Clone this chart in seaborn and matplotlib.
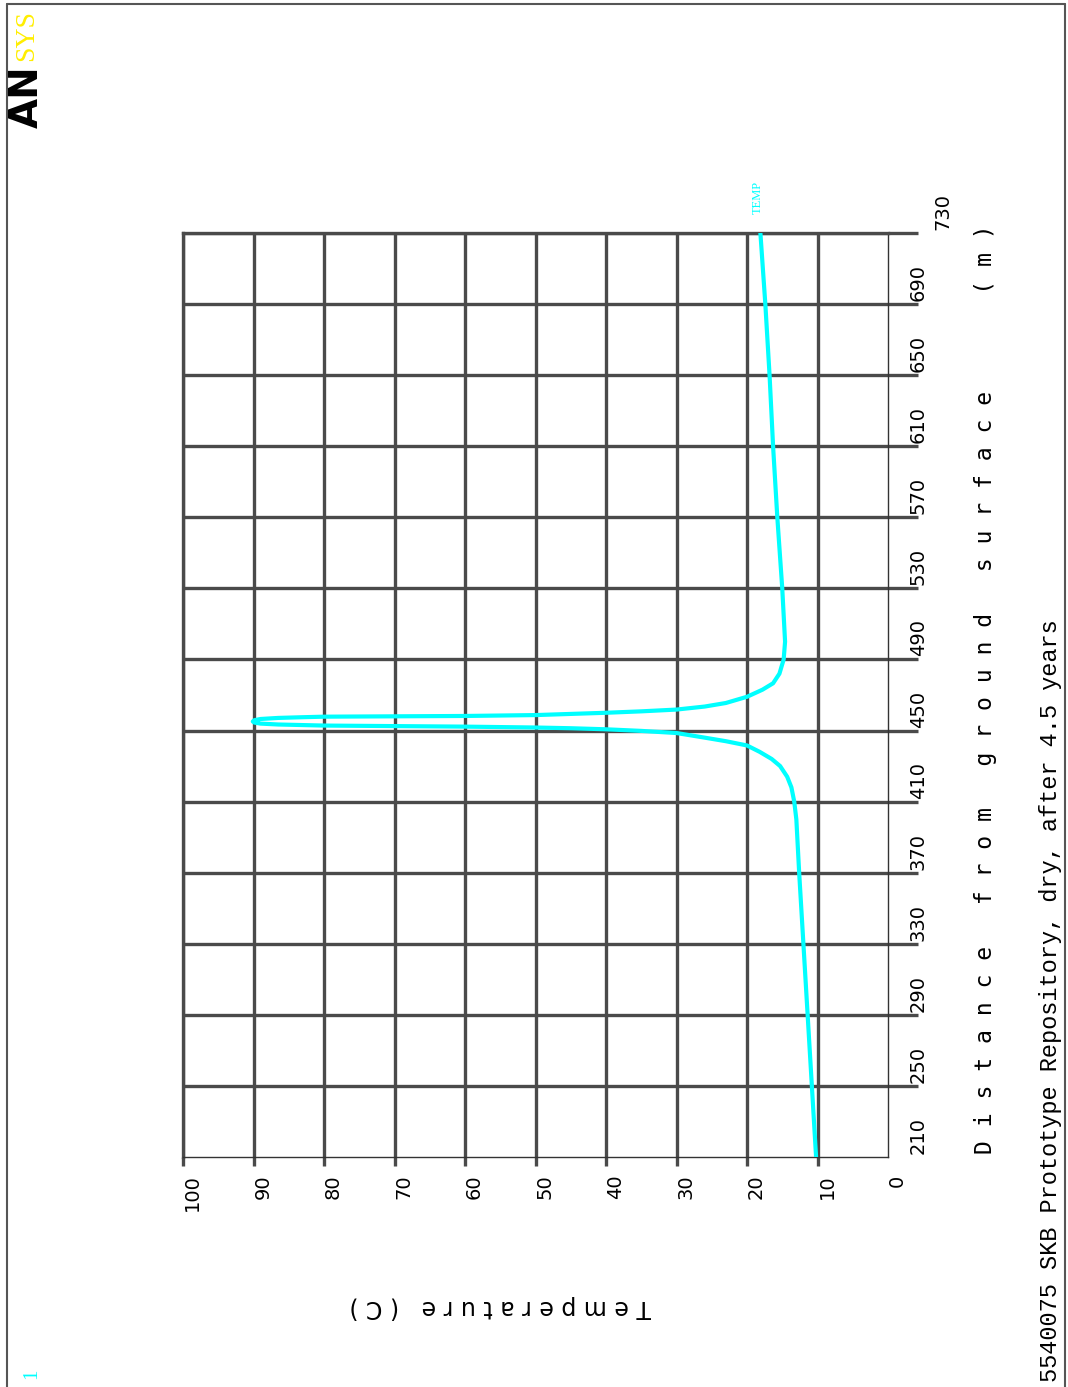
import numpy as np
import pandas as pd
import matplotlib
matplotlib.use("Agg")
import matplotlib.pyplot as plt
import matplotlib.transforms as mtransforms
from matplotlib.lines import Line2D
import seaborn as sns

# ---------------- data ----------------
distance_m = [210, 250, 290, 330, 370, 400, 410, 418, 424, 430,
              434, 438, 441.6, 444, 446, 448.6, 449.8, 450.7, 451.3, 451.7,
              452.2, 452.5, 452.8, 453.4, 453.9, 454.5, 455.1, 455.8, 456.5, 457.1,
              457.5, 457.8, 458.0, 458.2, 458.7, 460.0, 460.8, 461.8, 463.5, 465.5,
              469.0, 473.0, 476.6, 482, 490, 500, 530, 570, 610, 650,
              690, 730]
temperature_c = [10.2, 10.8, 11.4, 12.0, 12.6, 13.0, 13.3, 13.7, 14.3, 15.3,
                 16.5, 18.2, 20.0, 23.0, 26.0, 30.0, 35.0, 40.0, 45.0, 50.0,
                 60.0, 70.0, 80.0, 86.5, 89.0, 89.9, 90.1, 89.9, 89.0, 86.5,
                 83.0, 80.0, 70.0, 60.0, 50.0, 40.0, 35.0, 30.0, 26.0, 23.0,
                 20.0, 17.8, 16.3, 15.4, 14.8, 14.6, 15.0, 15.7, 16.3, 16.8,
                 17.4, 18.1]
temp_ticks = [0, 10, 20, 30, 40, 50, 60, 70, 80, 90, 100]
dist_ticks = [210, 250, 290, 330, 370, 410, 450, 490, 530, 570, 610, 650, 690, 730]
x_label = "T e m p e r a t u r e   ( C )"
y_label = "D i s t a n c e   f r o m   g r o u n d   s u r f a c e       ( m )"
title = "5540075 SKB Prototype Repository, dry, after 4.5 years"
series_label = "TEMP"
window_number = "1"

# ---------------- figure ----------------
W, H = 1068, 1387
sns.set_theme(style="white")
plt.rcParams['font.family'] = ['DejaVu Sans']

fig = plt.figure(figsize=(W / 100, H / 100), dpi=100)
fig.patch.set_facecolor('white')


def fx(px):
    return px / W


def fy(py):
    return 1 - py / H


AX_L, AX_R, AX_T, AX_B = 183, 888, 233, 1157
ax = fig.add_axes([fx(AX_L), fy(AX_B), (AX_R - AX_L) / W, (AX_B - AX_T) / H])
ax.set_facecolor('white')

df = pd.DataFrame({"distance": distance_m, "temperature": temperature_c})
sns.lineplot(data=df, x="temperature", y="distance", sort=False, estimator=None,
             color="#00FFFF", lw=3.0, ax=ax, zorder=5,
             solid_capstyle='round', solid_joinstyle='round')

ax.set_xlim(100, 0)
ax.set_ylim(210, 730)
ax.set_xticks(temp_ticks)
ax.set_yticks(dist_ticks)
ax.set_xticklabels([str(t) for t in temp_ticks])
ax.set_yticklabels([str(d) for d in dist_ticks])

GRID = '#4a4a4a'
ax.grid(True, color=GRID, lw=2.4)
ax.set_axisbelow(True)

TICK_FONT = 'DejaVu Sans'
ax.tick_params(axis='x', bottom=True, top=False, direction='out', length=6.5,
               width=2.4, color=GRID, pad=6.0, labelsize=14,
               labelfontfamily=TICK_FONT, labelcolor='black')
ax.tick_params(axis='y', left=False, right=True, labelleft=False, labelright=True,
               direction='out', length=21.6, width=2.4, color=GRID, pad=-6.5,
               labelsize=14, labelfontfamily=TICK_FONT, labelcolor='black')

for lab in ax.get_xticklabels():
    lab.set_rotation(90)
    lab.set_ha('left')
    lab.set_va('top')

yt = ax.yaxis.get_major_ticks()
for i, t in enumerate(yt):
    t.label2.set_rotation(90)
    t.label2.set_ha('left')
    t.label2.set_va('bottom')
    dx = 24 if i == len(yt) - 1 else 0   # top label sits further out
    t.label2.set_transform(t.label2.get_transform() +
                           mtransforms.ScaledTranslation(dx / 100, 3 / 100, fig.dpi_scale_trans))

xt = ax.xaxis.get_major_ticks()
xt[0].tick1line.set_visible(False)
xt[0].gridline.set_visible(False)
yt[0].tick2line.set_visible(False)
yt[0].gridline.set_visible(False)

for s in ['left', 'top']:
    ax.spines[s].set_color(GRID)
    ax.spines[s].set_linewidth(2.4)
for s in ['right', 'bottom']:
    ax.spines[s].set_color('#333333')
    ax.spines[s].set_linewidth(1.0)

# axis labels
ax.set_xlabel(x_label, fontsize=17, rotation=180, family='DejaVu Sans', color='black')
ax.xaxis.label.set_ha('center')
ax.xaxis.label.set_va('center')
ax.xaxis.set_label_coords((500 - AX_L) / (AX_R - AX_L), (AX_B - 1307) / (AX_B - AX_T))

ax.yaxis.set_label_position('right')
ax.set_ylabel(y_label, fontsize=16.7, rotation=90, family='DejaVu Sans Mono', color='black')
ax.yaxis.label.set_rotation_mode('default')
ax.yaxis.label.set_ha('center')
ax.yaxis.label.set_va('center')
ax.yaxis.set_label_coords((985 - AX_L) / (AX_R - AX_L), (AX_B - 689.5) / (AX_B - AX_T))

# series label
fig.text(fx(757.5), fy(214), series_label, rotation=90, ha='center', va='bottom',
         family='Liberation Serif', fontsize=9, color='#00FFFF')

# title
fig.text(fx(1050), fy(1382), title, rotation=90, ha='center', va='bottom',
         family='Liberation Mono', fontsize=17, color='black')

# window number
fig.text(fx(32), fy(1379), window_number, rotation=90, ha='center', va='bottom',
         family='Liberation Serif', fontsize=15, color='#00FFFF')

# logo
fig.text(fx(27), fy(128), "AN", rotation=90, ha='center', va='bottom',
         family='DejaVu Sans', fontweight='bold', fontsize=28, color='black')
fig.text(fx(27), fy(61), "SYS", rotation=90, ha='center', va='bottom',
         family='Liberation Serif', fontsize=20, color='#FFEE00')

# page border
for xs, ys in [([7, 7], [1387, 4]), ([7, 1065], [4, 4]), ([1065, 1065], [4, 1387])]:
    fig.add_artist(Line2D([fx(v) for v in xs], [fy(v) for v in ys],
                          transform=fig.transFigure, color='#555555', lw=1.5))

fig.savefig('out.png', dpi=100, facecolor='white')
